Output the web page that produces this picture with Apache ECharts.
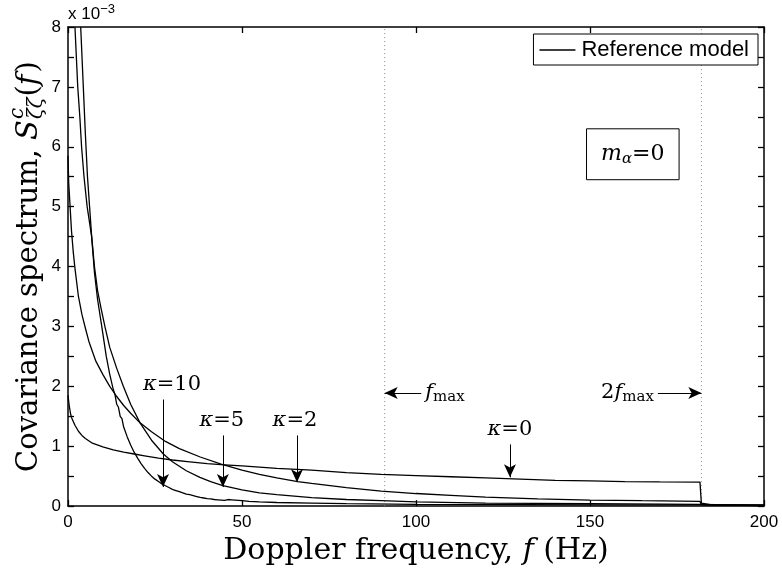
<!DOCTYPE html>
<html>
<head>
<meta charset="utf-8">
<script src="https://cdn.jsdelivr.net/npm/echarts@6/dist/echarts.min.js"></script>
<style>
  html, body { margin: 0; padding: 0; background: #fff; }
  #chart { width: 782px; height: 571px; }
</style>
</head>
<body>
<div id="chart"></div>
<script>
// Covariance spectrum S^c_{ζζ}(f); frequency in Hz, spectrum values in units of 1e-3.
const kappa0 = [
  [0, 1.85], [0.3, 1.7], [0.7, 1.55], [1, 1.48], [2, 1.35], [3, 1.25], [4, 1.18], [5, 1.13],
  [7, 1.05], [10, 0.99], [13, 0.94], [16, 0.9], [19, 0.87], [22, 0.84], [26, 0.8], [30, 0.77],
  [35, 0.74], [40, 0.71], [45, 0.69], [50, 0.67], [60, 0.63], [70, 0.6], [80, 0.56], [90, 0.53],
  [100, 0.51], [110, 0.49], [120, 0.47], [130, 0.45], [140, 0.43], [150, 0.42], [160, 0.41],
  [170, 0.405], [181.6, 0.4], [182, 0.05], [185, 0.02], [200, 0.02]
];
const kappa2 = [
  [0, 5.85], [0.2, 5.4], [0.6, 5.0], [1, 4.6], [1.5, 4.25], [2, 3.97], [3, 3.5], [4, 3.2],
  [5, 2.97], [6, 2.75], [8, 2.42], [10, 2.2], [12, 2.0], [14, 1.83], [16, 1.68], [18, 1.55],
  [20.7, 1.39], [24, 1.24], [28, 1.08], [32, 0.96], [38, 0.82], [44, 0.7], [50, 0.6], [55, 0.53],
  [60, 0.47], [66, 0.41], [70, 0.38], [80, 0.31], [90, 0.25], [100, 0.21], [110, 0.18],
  [120, 0.15], [135, 0.12], [150, 0.1], [165, 0.09], [181.6, 0.08], [182, 0.02], [200, 0.01]
];
const kappa5 = [
  [2.0, 8.0], [2.8, 7.0], [3.4, 6.5], [3.9, 6.0], [4.6, 5.5], [5.5, 5.0], [6.8, 4.5], [7.6, 4.0],
  [8.5, 3.6], [9.5, 3.3], [10.6, 3.0], [12, 2.65], [14, 2.3], [15.9, 2.0], [18, 1.7], [20.7, 1.39],
  [24, 1.1], [27.4, 0.87], [30, 0.74], [34, 0.59], [37.9, 0.48], [41, 0.41], [44.5, 0.34],
  [50, 0.27], [55, 0.22], [60, 0.19], [70, 0.14], [80, 0.11], [90, 0.09], [100, 0.07],
  [120, 0.05], [150, 0.04], [181.6, 0.03], [182, 0.01], [200, 0.01]
];
const kappa10 = [
  [3.65, 8.0], [4.4, 7.0], [5.0, 6.2], [5.6, 5.5], [6.2, 5.0], [6.8, 4.5], [7.6, 3.9], [8.5, 3.45],
  [9.7, 3.0], [11, 2.5], [12, 2.2], [13, 1.95], [13.5, 1.86], [14, 1.7], [14.5, 1.65], [15, 1.5],
  [15.5, 1.46], [16, 1.32], [16.5, 1.29], [17, 1.16], [17.5, 1.14], [18, 1.02], [18.5, 1.01],
  [19, 0.9], [19.5, 0.9], [20, 0.8], [20.5, 0.8], [21, 0.71], [21.5, 0.72], [22, 0.63],
  [22.5, 0.64], [23, 0.56], [23.5, 0.58], [24, 0.5], [24.5, 0.52], [25, 0.45], [25.5, 0.48],
  [26, 0.41], [26.5, 0.44], [27, 0.37], [27.5, 0.4], [28, 0.34], [28.5, 0.37], [29, 0.31],
  [29.5, 0.34], [30, 0.28], [30.5, 0.31], [31, 0.26], [31.5, 0.29], [32, 0.24], [32.5, 0.27],
  [33, 0.22], [33.5, 0.25], [34, 0.2], [34.5, 0.23], [35, 0.19], [35.5, 0.215], [36, 0.175],
  [36.5, 0.2], [37, 0.16], [37.5, 0.185], [38, 0.145], [38.5, 0.17], [39, 0.135], [39.5, 0.16],
  [40, 0.125], [40.5, 0.15], [41, 0.12], [41.5, 0.14], [42, 0.11], [42.5, 0.13], [43, 0.105],
  [43.5, 0.125], [44, 0.1], [44.5, 0.115], [45, 0.095], [46, 0.11], [46.5, 0.09], [47, 0.105],
  [47.5, 0.085], [48, 0.1], [48.5, 0.08], [49, 0.095], [49.5, 0.075], [50, 0.09], [52, 0.08],
  [55, 0.07], [60, 0.06], [70, 0.05], [80, 0.04], [100, 0.03], [130, 0.025], [160, 0.02],
  [181.6, 0.02], [182, 0.01], [200, 0.01]
];

// Reference frequencies marked by dotted verticals: f_max and 2 f_max (Hz)
const markerFreqs = [91, 182];
// Axis ranges and tick steps
const xRange = [0, 200];
const xStep = 50;
const yRange = [0, 8];
const yStep = 0.5;

// Annotation arrows: [label, xStart, yStart, xEnd, yEnd, label x-offset px]
const kappaArrows = [
  ['10', 27.3, 1.78, 27.3, 0.32, 9],
  ['5', 44.5, 1.18, 44.5, 0.32, -1],
  ['2', 65.8, 1.18, 65.8, 0.40, -2],
  ['0', 127, 1.03, 127, 0.48, 0]
];
const fmaxArrows = [
  ['{i|f}{sub|max}', 101.5, 1.89, 91, 1.89],
  ['{n|2}{i|f}{sub|max}', 169.5, 1.89, 182, 1.89]
];

const SERIF = '"DejaVu Serif", "Liberation Serif", serif';
const SANS = '"Liberation Sans", Arial, sans-serif';
const TITLE_SIZE = 30;
const Y_TITLE_SIZE = 29;

const chart = echarts.init(document.getElementById('chart'), null, { renderer: 'canvas' });

const curveStyle = { color: '#000', width: 1.3 };
function curve(data) {
  return {
    name: 'Reference model', type: 'line', data: data, symbol: 'none', showSymbol: false,
    lineStyle: curveStyle, itemStyle: { color: '#000' }, animation: false, z: 3
  };
}

const richText = {
  i: { fontFamily: SERIF, fontStyle: 'italic', fontSize: 21, color: '#000' },
  n: { fontFamily: SERIF, fontSize: 21, color: '#000' },
  sub: { fontFamily: SERIF, fontSize: 15, color: '#000', verticalAlign: 'bottom', padding: [9, 0, 0, 0] }
};

const arrowLines = [];
kappaArrows.forEach(function (a) {
  arrowLines.push([
    { coord: [a[1], a[2]], label: { formatter: '{i|κ}{n|=' + a[0] + '}', offset: [a[5], 0] } },
    { coord: [a[3], a[4]] }
  ]);
});
fmaxArrows.forEach(function (a) {
  arrowLines.push([
    { coord: [a[1], a[2]], label: { formatter: a[0] } },
    { coord: [a[3], a[4]] }
  ]);
});

const markerSeries = markerFreqs.map(function (f) {
  return {
    type: 'line', data: [[f, yRange[0]], [f, yRange[1]]], symbol: 'none', silent: true,
    lineStyle: { color: '#888', width: 1, type: [1, 3] }, animation: false, z: 1
  };
});

const option = {
  animation: false,
  backgroundColor: '#fff',
  grid: { left: 68, right: 18, top: 27, bottom: 62, containLabel: false },
  legend: {
    data: ['Reference model'], right: 24, top: 34, orient: 'horizontal',
    backgroundColor: '#fff', borderColor: '#000', borderWidth: 1, borderRadius: 0,
    padding: [5, 9, 4, 6], icon: 'rect', itemWidth: 36, itemHeight: 1.3, itemGap: 4,
    textStyle: { fontFamily: SANS, fontSize: 22, color: '#000', padding: [0, 0, 0, 1] },
    z: 10, selectedMode: false
  },
  xAxis: [
    {
      type: 'value', min: xRange[0], max: xRange[1], interval: xStep, position: 'bottom',
      name: 'Doppler frequency, {i|f} (Hz)', nameLocation: 'middle', nameGap: 27,
      nameTextStyle: {
        fontFamily: SERIF, fontSize: TITLE_SIZE, color: '#000',
        rich: { i: { fontFamily: SERIF, fontStyle: 'italic', fontSize: TITLE_SIZE, color: '#000' } }
      },
      axisLine: { show: true, onZero: false, lineStyle: { color: '#000', width: 1.5 } },
      axisTick: { show: true, inside: true, length: 6, lineStyle: { color: '#000', width: 1.3 } },
      axisLabel: { fontFamily: SANS, fontSize: 17, color: '#000', margin: 8 },
      splitLine: { show: false }
    },
    {
      type: 'value', min: xRange[0], max: xRange[1], interval: xStep, position: 'top',
      axisLine: { show: true, onZero: false, lineStyle: { color: '#000', width: 1.5 } },
      axisTick: { show: true, inside: true, length: 6, lineStyle: { color: '#000', width: 1.3 } },
      axisLabel: { show: false }, splitLine: { show: false }
    }
  ],
  yAxis: [
    {
      type: 'value', min: yRange[0], max: yRange[1], interval: yStep, position: 'left',
      axisLine: { show: true, onZero: false, lineStyle: { color: '#000', width: 1.5 } },
      axisTick: { show: true, inside: true, length: 6, lineStyle: { color: '#000', width: 1.3 } },
      axisLabel: {
        fontFamily: SANS, fontSize: 17, color: '#000', margin: 7,
        formatter: function (v) { return Math.abs(v - Math.round(v)) < 1e-9 ? String(Math.round(v)) : ''; }
      },
      splitLine: { show: false }
    },
    {
      type: 'value', min: yRange[0], max: yRange[1], interval: yStep, position: 'right',
      axisLine: { show: true, onZero: false, lineStyle: { color: '#000', width: 1.5 } },
      axisTick: { show: true, inside: true, length: 6, lineStyle: { color: '#000', width: 1.3 } },
      axisLabel: { show: false }, splitLine: { show: false }
    }
  ],
  series: [
    curve(kappa0), curve(kappa2), curve(kappa5), curve(kappa10),
    markerSeries[0],
    Object.assign({}, markerSeries[1], {
      markLine: {
        silent: true, animation: false, symbol: ['none', 'arrow'], symbolSize: [9, 13],
        lineStyle: { color: '#000', width: 1, type: 'solid' },
        label: { show: true, position: 'start', distance: 4, rich: richText, color: '#000' },
        data: arrowLines
      }
    })
  ]
};
chart.setOption(option);

// Y-axis title with stacked super/subscript, and the exponent / parameter boxes
function buildOverlay() {
  const ctx = document.createElement('canvas').getContext('2d');
  const fs = Y_TITLE_SIZE;
  const fontR = fs + 'px ' + SERIF;
  const fontI = 'italic ' + fs + 'px ' + SERIF;
  const fontS = 'italic ' + Math.round(fs * 0.68) + 'px ' + SERIF;
  function w(t, f) { ctx.font = f; return ctx.measureText(t).width; }
  const parts = [];
  let x = 0;
  function put(t, f, dy) { parts.push({ t: t, f: f, x: x, dy: dy || 0 }); }
  put('Covariance spectrum, ', fontR); x += w('Covariance spectrum, ', fontR);
  put('S', fontI); x += w('S', fontI) + 1;
  const xs = x;
  put('c', fontS, -11);
  put('ζζ', fontS, 8);
  x = xs + Math.max(w('c', fontS), w('ζζ', fontS)) + 1;
  put('(', fontR); x += w('(', fontR);
  put('f', fontI); x += w('f', fontI) + 2;
  put(')', fontR); x += w(')', fontR);
  const total = x;
  const grid = chart.getModel().getComponent('grid').coordinateSystem.getRect();
  const cy = grid.y + grid.height / 2;
  const children = parts.map(function (p) {
    return {
      type: 'text', x: p.x - total / 2, y: p.dy,
      style: { text: p.t, font: p.f, fill: '#000', align: 'left', verticalAlign: 'middle' }
    };
  });
  const tl = chart.convertToPixel({ xAxisIndex: 0, yAxisIndex: 0 }, [xRange[0], yRange[1]]);
  const boxA = chart.convertToPixel({ xAxisIndex: 0, yAxisIndex: 0 }, [149, 6.3]);
  const boxB = chart.convertToPixel({ xAxisIndex: 0, yAxisIndex: 0 }, [175.6, 5.45]);
  chart.setOption({
    graphic: [
      { type: 'group', x: 29, y: cy, rotation: Math.PI / 2, children: children },
      {
        type: 'text', x: tl[0], y: tl[1] - 2,
        style: {
          text: 'x 10{sup|−3}', fill: '#000', font: '17px ' + SANS, align: 'left', verticalAlign: 'bottom',
          rich: { sup: { fontFamily: SANS, fontSize: 13, verticalAlign: 'top', padding: [0, 0, 9, 0] } }
        }
      },
      {
        type: 'rect', shape: { x: boxA[0], y: boxA[1], width: boxB[0] - boxA[0], height: boxB[1] - boxA[1] },
        style: { fill: '#fff', stroke: '#000', lineWidth: 1 }, z: 20
      },
      {
        type: 'text', x: (boxA[0] + boxB[0]) / 2, y: (boxA[1] + boxB[1]) / 2, z: 21,
        style: {
          text: '{i|m}{sub|α}{n|=0}', align: 'center', verticalAlign: 'middle',
          rich: {
            i: { fontFamily: SERIF, fontStyle: 'italic', fontSize: 22, fill: '#000' },
            n: { fontFamily: SERIF, fontSize: 22, fill: '#000' },
            sub: { fontFamily: SERIF, fontStyle: 'italic', fontSize: 15, fill: '#000', verticalAlign: 'bottom', padding: [9, 0, 0, 0] }
          }
        }
      }
    ]
  });
}
buildOverlay();
</script>
</body>
</html>
